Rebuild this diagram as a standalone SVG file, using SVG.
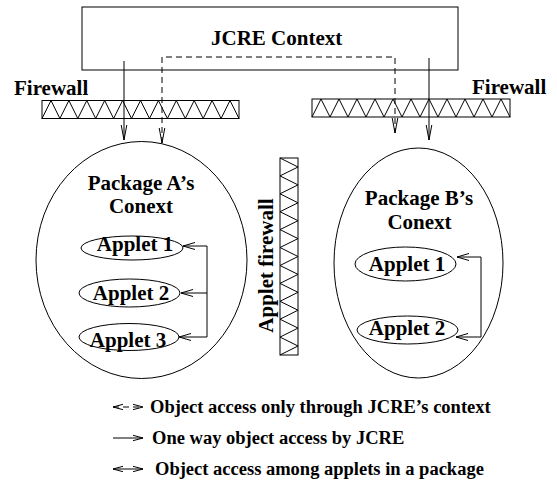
<svg xmlns="http://www.w3.org/2000/svg" width="557" height="488" viewBox="0 0 557 488">
  <style>
    .ln { fill: none; stroke: #000; stroke-width: 1; }
    .dash { stroke-dasharray: 6 4; }
    .lbl { font-family: "Liberation Serif", "Times New Roman", serif; font-weight: bold; font-size: 21px; fill: #000; }
    .key { font-size: 18.5px; }
    .mid { text-anchor: middle; }
  </style>
  <defs>
    <!-- open V arrowheads -->
    <marker id="headLong" markerUnits="userSpaceOnUse" markerWidth="18" markerHeight="10" refX="15" refY="5" orient="auto-start-reverse" overflow="visible">
      <path d="M0,2.2 L15,5 L0,7.8" fill="none" stroke="#000" stroke-width="1"/>
    </marker>
    <marker id="head" markerUnits="userSpaceOnUse" markerWidth="14" markerHeight="10" refX="12" refY="5" orient="auto-start-reverse" overflow="visible">
      <path d="M0,1.5 L12,5 L0,8.5" fill="none" stroke="#000" stroke-width="1"/>
    </marker>
    <marker id="keyHead" markerUnits="userSpaceOnUse" markerWidth="14" markerHeight="10" refX="10" refY="5" orient="auto-start-reverse" overflow="visible">
      <path d="M0,2.3 L10,5 L0,7.7" fill="none" stroke="#000" stroke-width="1"/>
    </marker>
  </defs>

  <!-- JCRE context box -->
  <g id="jcre">
    <rect class="ln" x="82" y="7" width="376" height="63"/>
    <text class="lbl" x="211" y="45">JCRE Context</text>
  </g>

  <!-- firewall between JCRE and package A -->
  <g id="firewall-left">
    <text class="lbl" x="14" y="95">Firewall</text>
    <rect class="ln" x="42" y="100.5" width="197" height="18"/>
    <path class="ln" d="M42,118.5 L51,100.5 L59.9,118.5 L68.9,100.5 L77.8,118.5 L86.8,100.5 L95.7,118.5 L104.7,100.5 L113.6,118.5 L122.6,100.5 L131.5,118.5 L140.5,100.5 L149.5,118.5 L158.4,100.5 L167.4,118.5 L176.3,100.5 L185.3,118.5 L194.2,100.5 L203.2,118.5 L212.1,100.5 L221.1,118.5 L230,100.5 L239,118.5"/>
  </g>

  <!-- firewall between JCRE and package B -->
  <g id="firewall-right">
    <text class="lbl" x="472" y="94">Firewall</text>
    <rect class="ln" x="312" y="99" width="198" height="18"/>
    <path class="ln" d="M312,117 L321,99 L330,117 L339,99 L348,117 L357,99 L366,117 L375,99 L384,117 L393,99 L402,117 L411,99 L420,117 L429,99 L438,117 L447,99 L456,117 L465,99 L474,117 L483,99 L492,117 L501,99 L510,117"/>
  </g>

  <!-- firewall between the two packages -->
  <g id="applet-firewall">
    <rect class="ln" x="280" y="158" width="18" height="197"/>
    <path class="ln" d="M280,158 L298,167 L280,175.9 L298,184.9 L280,193.8 L298,202.8 L280,211.7 L298,220.7 L280,229.6 L298,238.6 L280,247.5 L298,256.5 L280,265.5 L298,274.4 L280,283.4 L298,292.3 L280,301.3 L298,310.2 L280,319.2 L298,328.1 L280,337.1 L298,346 L280,355"/>
    <text class="lbl mid" transform="translate(273,265.5) rotate(-90)" x="0" y="0">Applet firewall</text>
  </g>

  <!-- package A -->
  <g id="package-a">
    <ellipse class="ln" cx="141.5" cy="260" rx="105.5" ry="118.5"/>
    <text class="lbl mid" x="141" y="190">Package A’s</text>
    <text class="lbl mid" x="141" y="213">Conext</text>
  </g>
  <g id="a-applet1">
    <ellipse class="ln" cx="132" cy="248" rx="51" ry="12"/>
    <text class="lbl mid" x="135" y="251">Applet 1</text>
  </g>
  <g id="a-applet2">
    <ellipse class="ln" cx="129.5" cy="293" rx="50.5" ry="14"/>
    <text class="lbl mid" x="131" y="300">Applet 2</text>
  </g>
  <g id="a-applet3">
    <ellipse class="ln" cx="129" cy="337" rx="50" ry="13.5"/>
    <text class="lbl mid" x="128" y="346.5">Applet 3</text>
  </g>

  <!-- package B -->
  <g id="package-b">
    <ellipse class="ln" cx="418.5" cy="263" rx="84.5" ry="115"/>
    <text class="lbl mid" x="419" y="205">Package B’s</text>
    <text class="lbl mid" x="419.5" y="229">Conext</text>
  </g>
  <g id="b-applet1">
    <ellipse class="ln" cx="405.5" cy="264" rx="50.5" ry="17"/>
    <text class="lbl mid" x="407" y="271">Applet 1</text>
  </g>
  <g id="b-applet2">
    <ellipse class="ln" cx="407.5" cy="330" rx="50.5" ry="14"/>
    <text class="lbl mid" x="407" y="335">Applet 2</text>
  </g>

  <!-- connectors -->
  <g id="connectors">
    <path class="ln" d="M124,61 L124,140" marker-end="url(#headLong)"/>
    <path class="ln" d="M429,58 L429,140" marker-end="url(#headLong)"/>
    <path class="ln dash" d="M162,143 L162,57 L395,57 L395,133" marker-start="url(#headLong)" marker-end="url(#headLong)"/>
    <path class="ln" d="M183,246 L207,246 L207,337 L179,337" marker-start="url(#head)" marker-end="url(#head)"/>
    <path class="ln" d="M207,293 L181,293" marker-end="url(#head)"/>
    <path class="ln" d="M457,257 L481,257 L481,337 L456,337" marker-start="url(#head)" marker-end="url(#head)"/>
  </g>

  <!-- legend -->
  <g id="legend">
    <path class="ln dash" d="M113,407 L143,407" stroke-dasharray="4 4" marker-start="url(#keyHead)" marker-end="url(#keyHead)"/>
    <text class="lbl key" x="150" y="413">Object access only through JCRE’s context</text>
    <path class="ln" d="M113,438 L143,438" marker-end="url(#keyHead)"/>
    <text class="lbl key" x="152" y="444">One way object access by JCRE</text>
    <path class="ln" d="M113,469 L143,469" marker-start="url(#keyHead)" marker-end="url(#keyHead)"/>
    <text class="lbl key" x="155" y="475">Object access among applets in a package</text>
  </g>
</svg>
